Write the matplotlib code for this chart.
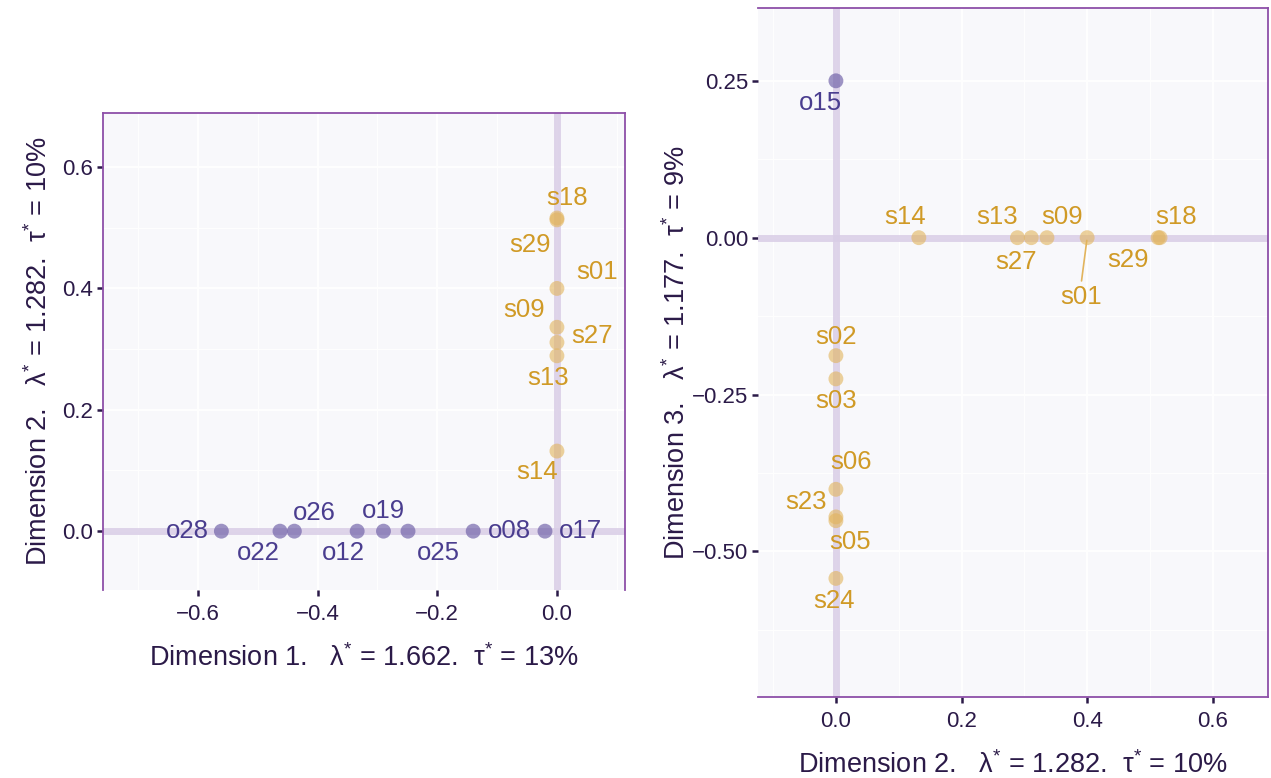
import numpy as np
import matplotlib
matplotlib.use("Agg")
import matplotlib.pyplot as plt
from matplotlib.ticker import MultipleLocator

plt.rcParams["font.family"] = ["Liberation Sans", "DejaVu Sans"]
plt.rcParams["mathtext.fontset"] = "custom"
plt.rcParams["mathtext.rm"] = "Liberation Sans"
plt.rcParams["mathtext.it"] = "Liberation Sans"

# ============================================
# DATA
# ============================================
# left panel: dimension 1 vs dimension 2
left_names = ["s18", "s29", "s01", "s09", "s27", "s13", "s14",
              "o28", "o22", "o26", "o12", "o19", "o25", "o08", "o17"]
left_dim1 = [0, 0, 0, 0, 0, 0, 0,
             -0.561, -0.463, -0.439, -0.334, -0.290, -0.249, -0.140, -0.020]
left_dim2 = [0.516, 0.513, 0.400, 0.336, 0.311, 0.289, 0.132,
             0, 0, 0, 0, 0, 0, 0, 0]

# right panel: dimension 2 vs dimension 3
right_names = ["o15", "s14", "s13", "s27", "s09", "s01", "s18", "s29",
               "s02", "s03", "s06", "s23", "s05", "s24"]
right_dim2 = [0, 0.132, 0.289, 0.311, 0.336, 0.400, 0.516, 0.513,
              0, 0, 0, 0, 0, 0]
right_dim3 = [0.25, 0, 0, 0, 0, 0, 0, 0,
              -0.188, -0.225, -0.401, -0.445, -0.451, -0.543]

xlab_left = "Dimension 1.   λ$^{*}$ = 1.662.  τ$^{*}$ = 13%"
ylab_left = "Dimension 2.   λ$^{*}$ = 1.282.  τ$^{*}$ = 10%"
xlab_right = "Dimension 2.   λ$^{*}$ = 1.282.  τ$^{*}$ = 10%"
ylab_right = "Dimension 3.   λ$^{*}$ = 1.177.  τ$^{*}$ = 9%"

# label offsets in pixels (dx, dy), screen up positive
left_offsets = {
    "s18": (10, 20), "s29": (-27, -25), "s01": (40, 16), "s09": (-33, 17),
    "s27": (35, 6), "s13": (-9, -22), "s14": (-20, -21),
    "o28": (-34, 0), "o22": (-22, -22), "o26": (20, 18), "o12": (-14, -22),
    "o19": (0, 20), "o25": (30, -22), "o08": (36, 0), "o17": (35, 0),
}
right_offsets = {
    "o15": (-15, -22), "s14": (-14, 21), "s13": (-20, 21), "s27": (-15, -24),
    "s09": (15, 21), "s01": (-6, -59), "s18": (16, 21), "s29": (-30, -22),
    "s02": (0, 19), "s03": (0, -22), "s06": (15, 27), "s23": (-30, 15),
    "s05": (14, -21), "s24": (-2, -23),
}

PURPLE_PT = "#6b5ca5"
PURPLE_TXT = "#4a3d8f"
GOLD_PT = "#e2b45c"
GOLD_TXT = "#d09a26"
SPINE = "#8d4fa8"
ZERO = "#d9cde6"
BG = "#f8f8fb"
DARK = "#2b1a48"

DPI = 100
fig = plt.figure(figsize=(12.71, 7.78), dpi=DPI)
px = 72.0 / DPI  # pixels -> points


def style_axes(ax, xlim, ylim, xmaj, xmin, ymaj, ymin, hide):
    ax.set_facecolor(BG)
    ax.set_xlim(*xlim)
    ax.set_ylim(*ylim)
    ax.xaxis.set_major_locator(MultipleLocator(xmaj))
    ax.xaxis.set_minor_locator(MultipleLocator(xmin))
    ax.yaxis.set_major_locator(MultipleLocator(ymaj))
    ax.yaxis.set_minor_locator(MultipleLocator(ymin))
    ax.grid(which="major", color="white", lw=1.4, zorder=0)
    ax.grid(which="minor", color="white", lw=0.7, zorder=0)
    ax.set_axisbelow(True)
    ax.tick_params(which="major", length=4, width=1.8, color=DARK,
                   labelcolor=DARK, labelsize=16, pad=3)
    ax.tick_params(axis="x", which="major", pad=6)
    ax.tick_params(which="minor", length=0)
    for side, sp in ax.spines.items():
        sp.set_color(SPINE)
        sp.set_linewidth(1.3)
    ax.spines[hide].set_visible(False)
    ax.axhline(0, color=ZERO, lw=5, alpha=0.85, zorder=1)
    ax.axvline(0, color=ZERO, lw=5, alpha=0.85, zorder=1)


def draw_points(ax, names, xs, ys, offsets, leader=()):
    for name, x, y in zip(names, xs, ys):
        is_obs = name.startswith("o")
        ax.scatter(x, y, s=115, color=PURPLE_PT if is_obs else GOLD_PT,
                   alpha=0.65 if is_obs else 0.6, edgecolors="none", zorder=3)
        dx, dy = offsets[name]
        if name in leader:
            ax.annotate("", xy=(x, y), xytext=(dx * px, (dy + 13) * px),
                        textcoords="offset points",
                        arrowprops=dict(arrowstyle="-", color=GOLD_PT, lw=1.2))
        ax.annotate(name, (x, y), xytext=(dx * px, dy * px),
                    textcoords="offset points", ha="center", va="center",
                    fontsize=18.5, color=PURPLE_TXT if is_obs else GOLD_TXT,
                    zorder=4)


# ============================================
# LEFT PANEL
# ============================================
ax1 = fig.add_axes([0.0810, 0.2416, 0.4107, 0.6131])
style_axes(ax1, (-0.759, 0.1137), (-0.097, 0.689), 0.2, 0.1, 0.2, 0.1, "bottom")
ax1.xaxis.set_major_formatter(lambda v, p: f"{v:.1f}".replace("-", "\u2212"))
ax1.yaxis.set_major_formatter(lambda v, p: f"{v:.1f}".replace("-", "\u2212"))
draw_points(ax1, left_names, left_dim1, left_dim2, left_offsets)
ax1.set_xlabel(xlab_left, fontsize=19.5, color=DARK, labelpad=14)
ax1.set_ylabel(ylab_left, fontsize=19.5, color=DARK, labelpad=7)

# ============================================
# RIGHT PANEL
# ============================================
ax2 = fig.add_axes([0.5964, 0.1041, 0.4013, 0.8856])
style_axes(ax2, (-0.124, 0.688), (-0.732, 0.366), 0.2, 0.1, 0.25, 0.125, "left")
ax2.xaxis.set_major_formatter(lambda v, p: f"{v:.1f}".replace("-", "\u2212"))
ax2.yaxis.set_major_formatter(lambda v, p: f"{v:.2f}".replace("-", "\u2212"))
draw_points(ax2, right_names, right_dim2, right_dim3, right_offsets, leader=("s01",))
ax2.set_xlabel(xlab_right, fontsize=19.5, color=DARK, labelpad=14)
ax2.set_ylabel(ylab_right, fontsize=19.5, color=DARK, labelpad=1)

fig.savefig("out.png", dpi=DPI)
